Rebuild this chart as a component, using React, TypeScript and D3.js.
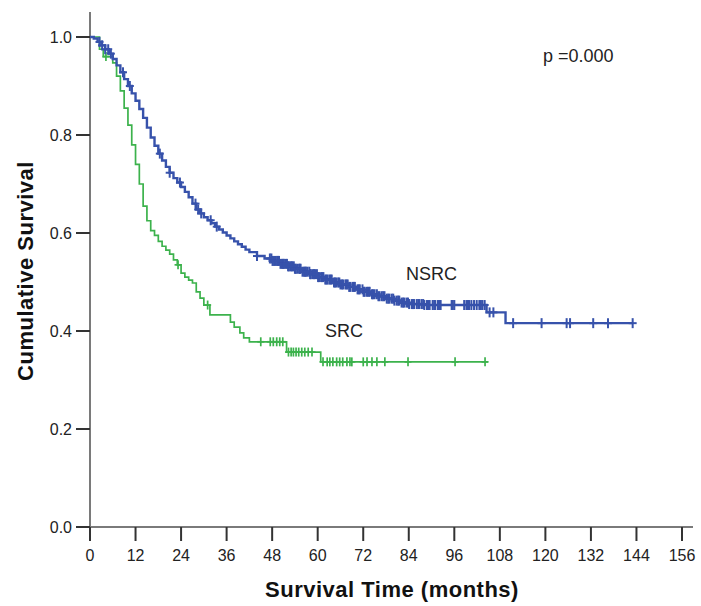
import React from "react";
import * as d3 from "d3";

// NSRC Kaplan-Meier steps: [time (months), cumulative survival]
const nsrcTimes = [0,1,2,3,4,5,6,7,8,9,10,11,12,13,14,15,16,17,18,19,20,21,22,23,24,25,26,27,28,29,30,31,32,33,34,35,36,37,38,39,40,41,42,44,46,48,50,52,54,56,58,60,62,64,66,68,70,72,74,76,78,80,82,84,88,104.5,109.5];
const nsrcSurv = [1.0,0.997,0.99,0.983,0.975,0.966,0.955,0.942,0.928,0.914,0.9,0.885,0.87,0.853,0.835,0.815,0.795,0.778,0.762,0.748,0.735,0.723,0.712,0.703,0.694,0.684,0.673,0.66,0.648,0.64,0.632,0.626,0.62,0.613,0.607,0.601,0.595,0.589,0.583,0.577,0.572,0.566,0.561,0.553,0.548,0.543,0.537,0.532,0.527,0.521,0.516,0.51,0.505,0.499,0.495,0.49,0.485,0.48,0.475,0.471,0.466,0.462,0.458,0.455,0.453,0.438,0.416];
const nsrcEnd = 143;
const nsrcCensored = [2.5,3.2,4,4.8,5.5,8.7,10.5,18.4,21,23.7,27.8,28.5,29.3,31.8,33.4,44,
  47.4,47.8,48.1,48.5,48.9,49.3,49.6,49.8,50.2,50.6,50.9,51.1,51.5,51.9,52.2,52.4,52.8,53.1,53.3,53.7,54.0,54.2,54.6,55.1,55.3,55.5,56.0,56.4,56.7,56.9,57.3,57.8,58.0,58.2,58.7,59.0,59.3,59.8,60.1,60.4,60.9,61.2,61.5,62.0,62.3,62.6,63.1,63.4,63.7,64.3,64.6,64.9,65.4,65.7,66.0,66.4,66.7,67.3,67.6,67.9,68.3,68.6,69.2,69.5,69.8,70.5,70.8,71.1,71.8,72.1,72.4,73.0,73.4,73.7,74.3,74.6,75.0,75.6,76.0,76.3,76.9,77.3,77.6,78.2,78.6,78.9,79.5,79.9,80.2,80.8,81.2,81.5,82.1,82.5,82.8,83.4,83.8,84.1,84.8,85.1,85.4,86.1,86.5,86.8,87.4,87.8,88.1,88.8,89.2,89.5,90.3,90.7,91.0,91.7,92.1,92.4,95.3,95.6,96.0,98.6,99.2,99.6,99.9,100.5,101.2,101.9,102.6,103.0,103.4,104.0,
  105.3,106.3,111.5,119,125.6,126.5,132.6,136.5,143];

// SRC Kaplan-Meier steps
const srcTimes = [0,2.5,3.5,6,7,8,9,10,11,12,13,14,15,16,17,18,19,20,21,22,23,24,25,26,27,28,29,30,31.6,37,38,39.5,40.5,42,51.8,60.8];
const srcSurv = [1.0,0.975,0.96,0.947,0.92,0.89,0.855,0.82,0.78,0.74,0.7,0.655,0.625,0.605,0.595,0.583,0.573,0.565,0.557,0.545,0.535,0.518,0.51,0.504,0.498,0.48,0.467,0.453,0.433,0.418,0.408,0.396,0.386,0.378,0.357,0.337];
const srcEnd = 104.9;
const srcCensored = [4.2,23.2,31,45,47.5,48.3,49.2,50,50.8,52.3,53,53.6,54.3,55,55.8,56.6,57.5,58.5,
  61.4,62.5,63.2,64,65,65.8,66.6,67.7,68.5,69,72,73,74.3,75.6,77.7,83.8,96.2,104.1];

const xTicks = [0,12,24,36,48,60,72,84,96,108,120,132,144,156];
const yTicks = [0,0.2,0.4,0.6,0.8,1.0];

const BLUE = "#3752ab";
const GREEN = "#3cb24c";
const AXIS = "#7a7a7a";
const FONT = "'Liberation Sans', Arial, sans-serif";

export default function App() {
  const x = d3.scaleLinear().domain([0, 156]).range([90, 682]);
  const y = d3.scaleLinear().domain([0, 1]).range([527, 37]);

  const survAt = (times: number[], surv: number[], t: number) => {
    const i = d3.bisectRight(times, t) - 1;
    return surv[Math.max(0, i)];
  };

  const stepPath = (times: number[], surv: number[], end: number) => {
    const pts: [number, number][] = times.map((t, i) => [t, surv[i]]);
    pts.push([end, surv[surv.length - 1]]);
    const line = d3
      .line<[number, number]>()
      .x((d) => x(d[0]))
      .y((d) => y(d[1]))
      .curve(d3.curveStepAfter);
    return line(pts) || "";
  };

  const censorMarks = (
    times: number[],
    surv: number[],
    cens: number[],
    color: string,
    key: string,
    h: number,
    w: number,
    sw: number
  ) =>
    cens.map((t, i) => {
      const cx = x(t);
      const cy = y(survAt(times, surv, t));
      return (
        <g key={key + i} stroke={color} strokeWidth={sw}>
          <line x1={cx} x2={cx} y1={cy - h} y2={cy + h} />
          <line x1={cx - w} x2={cx + w} y1={cy} y2={cy} />
        </g>
      );
    });

  return (
    <svg
      width={701}
      height={606}
      style={{ position: "absolute", left: 0, top: 0, background: "#fff" }}
      fontFamily={FONT}
    >
      <rect width={701} height={606} fill="#fff" />
      {/* axes */}
      <line x1={90} x2={90} y1={12} y2={528} stroke={AXIS} strokeWidth={2} />
      <line x1={89} x2={693} y1={527} y2={527} stroke={AXIS} strokeWidth={2} />
      {yTicks.map((v) => (
        <g key={"yt" + v}>
          <line x1={76} x2={90} y1={y(v)} y2={y(v)} stroke="#333" strokeWidth={2} />
          <text x={72} y={y(v) + 5.5} textAnchor="end" fontSize={16} fill="#222">
            {v.toFixed(1)}
          </text>
        </g>
      ))}
      {xTicks.map((v) => (
        <g key={"xt" + v}>
          <line x1={x(v)} x2={x(v)} y1={527} y2={541} stroke="#333" strokeWidth={2} />
          <text x={x(v)} y={561} textAnchor="middle" fontSize={16} fill="#222">
            {v}
          </text>
        </g>
      ))}
      <text
        x={392}
        y={597}
        textAnchor="middle"
        fontSize={22}
        fontWeight="bold"
        letterSpacing={0.5}
        fill="#111"
      >
        Survival Time (months)
      </text>
      <text
        transform="translate(33,271) rotate(-90)"
        textAnchor="middle"
        fontSize={22}
        fontWeight="bold"
        letterSpacing={0.5}
        fill="#111"
      >
        Cumulative Survival
      </text>

      {/* curves */}
      <path d={stepPath(srcTimes, srcSurv, srcEnd)} fill="none" stroke={GREEN} strokeWidth={1.7} />
      {censorMarks(srcTimes, srcSurv, srcCensored, GREEN, "s", 4.5, 3.5, 1.7)}
      <path d={stepPath(nsrcTimes, nsrcSurv, nsrcEnd)} fill="none" stroke={BLUE} strokeWidth={2.4} />
      {censorMarks(nsrcTimes, nsrcSurv, nsrcCensored, BLUE, "n", 5, 4, 2)}

      <text x={543} y={62} fontSize={18} fill="#222">p =0.000</text>
      <text x={406} y={280} fontSize={18} fill="#222">NSRC</text>
      <text x={325} y={337} fontSize={18} fill="#222">SRC</text>
    </svg>
  );
}
